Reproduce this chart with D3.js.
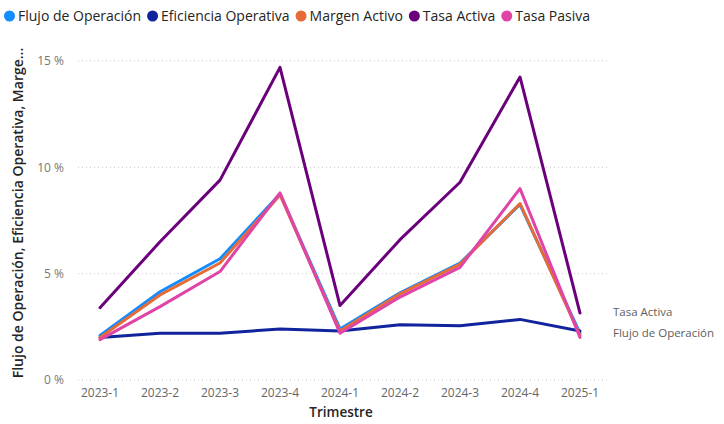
<!DOCTYPE html>
<html><head><meta charset="utf-8">
<script src="https://cdn.jsdelivr.net/npm/d3@7"></script>
<style>
body{margin:0;background:#fff;}
text{font-family:"Segoe UI","Open Sans","Noto Sans",sans-serif;}
</style></head>
<body><svg id="c" width="724" height="424"></svg>
<script>
const categories = ["2023-1","2023-2","2023-3","2023-4","2024-1","2024-2","2024-3","2024-4","2025-1"];
const flujoOperacion = [2.1, 4.15, 5.7, 8.75, 2.4, 4.1, 5.5, 8.25, 2.2];
const eficienciaOperativa = [2.0, 2.2, 2.2, 2.4, 2.3, 2.6, 2.55, 2.85, 2.3];
const margenActivo = [2.0, 4.0, 5.5, 8.7, 2.3, 4.05, 5.45, 8.3, 2.1];
const tasaActiva = [3.4, 6.5, 9.4, 14.7, 3.5, 6.6, 9.3, 14.25, 3.15];
const tasaPasiva = [1.9, 3.45, 5.1, 8.8, 2.2, 3.9, 5.3, 9.0, 2.0];
const yTicks = [0, 5, 10, 15];
const seriesNames = ["Flujo de Operación","Eficiencia Operativa","Margen Activo","Tasa Activa","Tasa Pasiva"];
const seriesValues = [flujoOperacion, eficienciaOperativa, margenActivo, tasaActiva, tasaPasiva];
const colors = ["#118DFF","#12239E","#E66C37","#6B007B","#E044A7"];
const endLabels = ["Tasa Activa","Flujo de Operación"];

const svg = d3.select("#c");
const x = d3.scalePoint().domain(categories).range([100, 580]);
const y = d3.scaleLinear().domain([0, 15]).range([380, 61]);

// gridlines
svg.append("g").selectAll("line").data(yTicks).join("line")
  .attr("x1", 78).attr("x2", 610)
  .attr("y1", d => y(d)).attr("y2", d => y(d))
  .attr("stroke", "#c8c8c8").attr("stroke-width", 1).attr("stroke-dasharray", "1,3");

// y tick labels
svg.append("g").selectAll("text").data(yTicks).join("text")
  .attr("x", 64).attr("y", d => y(d)).attr("dy", "0.35em")
  .attr("text-anchor", "end").attr("fill", "#777").attr("font-size", 12)
  .text(d => d + " %");

// x tick labels
svg.append("g").selectAll("text").data(categories).join("text")
  .attr("x", d => x(d)).attr("y", 397)
  .attr("text-anchor", "middle").attr("fill", "#666").attr("font-size", 12)
  .text(d => d);

// axis titles
svg.append("text").attr("x", 341).attr("y", 417).attr("text-anchor", "middle")
  .attr("fill", "#252423").attr("font-size", 13.5).attr("font-weight", 600).text("Trimestre");
svg.append("text").attr("transform", "translate(23,213) rotate(-90)").attr("text-anchor", "middle")
  .attr("fill", "#252423").attr("font-size", 14).attr("font-weight", 600)
  .text("Flujo de Operación, Eficiencia Operativa, Marge...");

// lines
const line = d3.line().x((d, i) => x(categories[i])).y(d => y(d));
svg.append("g").selectAll("path").data(seriesValues).join("path")
  .attr("d", d => line(d)).attr("fill", "none")
  .attr("stroke", (d, i) => colors[i]).attr("stroke-width", 3)
  .attr("stroke-linejoin", "round").attr("stroke-linecap", "round");

// end labels
svg.append("g").selectAll("text").data(endLabels).join("text")
  .attr("x", 613).attr("y", (d, i) => 312 + i * 21).attr("dy", "0.35em")
  .attr("fill", "#605E5C").attr("font-size", 11.5).text(d => d);

// legend
const lg = svg.append("g");
let lx = 4;
seriesNames.forEach((n, i) => {
  lg.append("circle").attr("cx", lx + 5.5).attr("cy", 16).attr("r", 5.5).attr("fill", colors[i]);
  const t = lg.append("text").attr("x", lx + 14).attr("y", 16).attr("dy", "0.35em")
    .attr("fill", "#252423").attr("font-size", 14).text(n);
  lx += 14 + t.node().getComputedTextLength() + 6;
});
</script></body></html>
